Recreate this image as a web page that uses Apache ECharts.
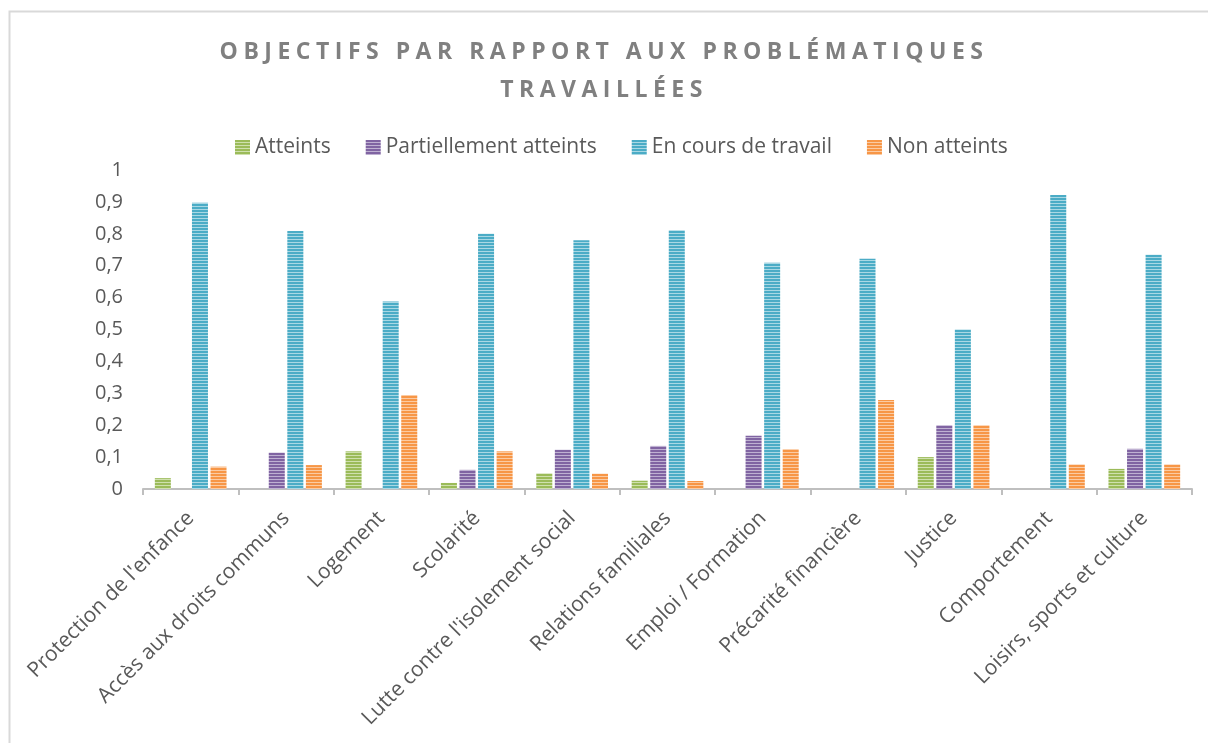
<!DOCTYPE html>
<html>
<head>
<meta charset="utf-8">
<script src="https://cdn.jsdelivr.net/npm/echarts@6/dist/echarts.min.js"></script>
<style>
  html, body { margin: 0; padding: 0; background: #fff; }
  #chart { width: 1208px; height: 743px; }
</style>
</head>
<body>
<div id="chart"></div>
<script>
const categories = [
  "Protection de l'enfance", 'Accès aux droits communs', 'Logement', 'Scolarité',
  "Lutte contre l'isolement social", 'Relations familiales', 'Emploi / Formation',
  'Précarité financière', 'Justice', 'Comportement', 'Loisirs, sports et culture'
];
const atteints = [0.034, 0, 0.118, 0.019, 0.049, 0.026, 0, 0, 0.1, 0, 0.063];
const partiellement = [0, 0.114, 0, 0.06, 0.123, 0.135, 0.167, 0, 0.2, 0, 0.126];
const enCours = [0.897, 0.809, 0.588, 0.80, 0.78, 0.811, 0.709, 0.722, 0.5, 0.922, 0.734];
const nonAtteints = [0.07, 0.075, 0.295, 0.118, 0.048, 0.025, 0.125, 0.279, 0.2, 0.077, 0.077];
const yTicks = [0, 0.1, 0.2, 0.3, 0.4, 0.5, 0.6, 0.7, 0.8, 0.9, 1];
const titleLines = ['OBJECTIFS PAR RAPPORT AUX PROBLÉMATIQUES', 'TRAVAILLÉES'];

// the title is letter-spaced in the original; canvas supports it, zrender doesn't
const origFillText = CanvasRenderingContext2D.prototype.fillText;
CanvasRenderingContext2D.prototype.fillText = function (text, x, y, w) {
  if (titleLines.indexOf(text) >= 0) {
    const prev = this.letterSpacing;
    this.letterSpacing = '5.5px';
    origFillText.call(this, text, x, y);
    this.letterSpacing = prev || '0px';
    return;
  }
  return w === undefined ? origFillText.call(this, text, x, y) : origFillText.call(this, text, x, y, w);
};

// horizontal stripe fill like the office pattern
function stripes(base, light) {
  const c = document.createElement('canvas');
  c.width = 4; c.height = 3;
  const ctx = c.getContext('2d');
  ctx.fillStyle = base;
  ctx.fillRect(0, 0, 4, 2);
  ctx.fillStyle = light;
  ctx.fillRect(0, 2, 4, 1);
  return { image: c, repeat: 'repeat' };
}

const fills = [
  stripes('#9bbb59', '#cfe0ae'),
  stripes('#8064a2', '#bfb1d2'),
  stripes('#4bacc6', '#a9d8e4'),
  stripes('#f79646', '#fbcba3')
];

const chart = echarts.init(document.getElementById('chart'), null, { renderer: 'canvas' });

const mk = (name, data, i) => ({
  name, type: 'bar', data,
  barWidth: 16, barGap: '16%',
  itemStyle: { color: fills[i] }
});

chart.setOption({
  animation: false,
  backgroundColor: '#fff',
  textStyle: { fontFamily: 'Open Sans, Liberation Sans, sans-serif' },
  graphic: [{
    type: 'rect', left: 7, top: 9,
    shape: { width: 1220, height: 760 },
    style: { fill: 'none', stroke: '#d9d9d9', lineWidth: 2 },
    silent: true
  }],
  title: {
    text: titleLines.join('\n'),
    left: 'center', top: 28,
    textStyle: { fontSize: 23, fontWeight: 'bold', color: '#808080', lineHeight: 38 }
  },
  legend: {
    top: 132, left: 230,
    itemWidth: 15, itemHeight: 15, itemGap: 35,
    icon: 'rect',
    textStyle: { fontSize: 21, color: '#595959' },
    data: ['Atteints', 'Partiellement atteints', 'En cours de travail', 'Non atteints']
  },
  grid: { left: 143, right: 16, top: 170, bottom: 254, containLabel: false },
  xAxis: {
    type: 'category', data: categories,
    axisLine: { lineStyle: { color: '#bfbfbf', width: 2 } },
    axisTick: { show: true, length: 6, lineStyle: { color: '#bfbfbf', width: 2 } },
    axisLabel: { rotate: 45, fontSize: 21, color: '#595959', margin: 26, interval: 0 }
  },
  yAxis: {
    type: 'value', min: yTicks[0], max: yTicks[yTicks.length - 1], interval: 0.1,
    axisLine: { show: false }, axisTick: { show: false }, splitLine: { show: false },
    axisLabel: {
      fontSize: 20, color: '#595959', margin: 20,
      formatter: v => String(+v.toFixed(1)).replace('.', ',')
    }
  },
  series: [
    mk('Atteints', atteints, 0),
    mk('Partiellement atteints', partiellement, 1),
    mk('En cours de travail', enCours, 2),
    mk('Non atteints', nonAtteints, 3)
  ]
});
</script>
</body>
</html>
